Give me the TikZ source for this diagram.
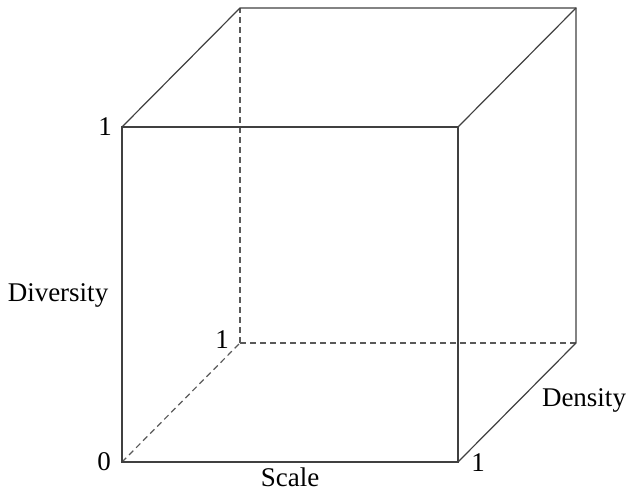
\documentclass[tikz,border=0pt]{standalone}
\usepackage{fontspec}
\setmainfont{Liberation Serif}
\usepackage{tikz}
\usetikzlibrary{arrows}

\begin{document}
\begin{tikzpicture}[x=1pt, y=1pt,
				kante/.style={draw=black!75, line width=1.2pt},
				verdeckt/.style={draw=black!65, line width=1.2pt, dash pattern=on 6pt off 4pt},
				font=\fontsize{27}{32}\selectfont, inner sep=1pt]
				%Bildbereich
				\useasboundingbox (0,0) rectangle (627,493);
				%Ecken des Wuerfels
				\coordinate (v0) at (122,31);   \coordinate (v1) at (458,31);
				\coordinate (v2) at (458,366);  \coordinate (v3) at (122,366);
				\coordinate (h0) at (240,150);  \coordinate (h1) at (576,150);
				\coordinate (h2) at (576,485);  \coordinate (h3) at (240,485);
				% verdeckte Kanten
				\draw[verdeckt] (v0) -- (h0);
				\draw[verdeckt] (h0) -- (h1);
				\draw[verdeckt] (h0) -- (h3);
				% sichtbare Kanten
				\draw[kante] (v0) -- (v1) -- (v2) -- (v3) -- cycle;
				\draw[kante] (v3) -- (h3) -- (h2) -- (h1) -- (v1);
				\draw[kante] (v2) -- (h2);
				% Beschriftung
				\node (null) at (104,31) {0};
				\node (einsD) at (105,366) {1};
				\node (einsT) at (222,153) {1};
				\node (einsR) at (478,30) {1};
				\node (scale) at (290,16) {Scale};
				\node (div) at (58,198) {Diversity};
				\node (dens) at (584,93) {Density};
			\end{tikzpicture}
\end{document}
